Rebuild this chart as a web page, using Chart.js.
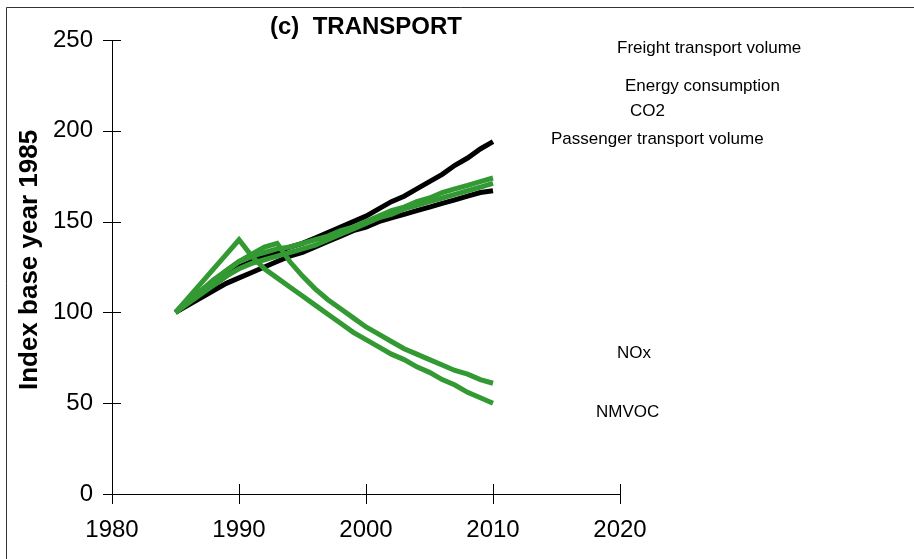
<!DOCTYPE html>
<html>
<head>
<meta charset="utf-8">
<title>(c) TRANSPORT</title>
<script src="https://cdn.jsdelivr.net/npm/chart.js@4/dist/chart.umd.min.js"></script>
<style>
  body { margin: 0; background: #fff; }
  #wrap { width: 914px; height: 559px; }
</style>
</head>
<body>
<div id="wrap"><canvas id="myChart" width="914" height="559"></canvas></div>
<script>
// data, index 1985 = 100
const years = [1985, 1986, 1987, 1988, 1989, 1990, 1991, 1992, 1993, 1994, 1995, 1996, 1997,
  1998, 1999, 2000, 2001, 2002, 2003, 2004, 2005, 2006, 2007, 2008, 2009, 2010];
const freight = [100, 105, 110, 115, 120, 125, 128, 131, 133, 136, 138, 141, 144,
  147, 150, 153, 157, 161, 164, 168, 172, 176, 181, 185, 190, 194];
const passenger = [100, 104, 108, 112, 116, 119, 122, 125, 128, 131, 133, 136, 139,
  142, 145, 147, 150, 152, 154, 156, 158, 160, 162, 164, 166, 167];
const energy = [100, 106, 112, 117, 123, 128, 131, 133, 135, 136, 138, 140, 142,
  145, 147, 150, 153, 156, 158, 161, 163, 166, 168, 170, 172, 174];
const co2 = [100, 105, 110, 115, 120, 124, 127, 129, 131, 133, 135, 137, 140,
  143, 146, 149, 152, 154, 157, 159, 161, 163, 165, 167, 169, 171];
const nox = [100, 106, 112, 118, 123, 128, 132, 136, 138, 128, 120, 113, 107,
  102, 97, 92, 88, 84, 80, 77, 74, 71, 68, 66, 63, 61];
const nmvoc = [100, 108, 116, 124, 132, 140, 131, 124, 119, 114, 109, 104, 99,
  94, 89, 85, 81, 77, 74, 70, 67, 63, 60, 56, 53, 50];
const yTicks = [0, 50, 100, 150, 200, 250];
const xTicks = [1980, 1990, 2000, 2010, 2020];

const green = "#339933";
const black = "#000000";
const font = "'Liberation Sans', Arial, sans-serif";

const toPoints = (vals) => vals.map((v, i) => ({ x: years[i], y: v }));

const mkSet = (label, vals, color) => ({
  label: label,
  data: toPoints(vals),
  borderColor: color,
  backgroundColor: color,
  borderWidth: 5,
  pointRadius: 0,
  tension: 0,
  fill: false,
});

// axes with ticks crossing the line, plus all the loose text
const decor = {
  id: "decor",
  beforeDatasetsDraw(chart) {
    const c = chart.ctx;
    const xs = chart.scales.x;
    const ys = chart.scales.y;
    const ax = xs.getPixelForValue(1980);
    const ay = ys.getPixelForValue(0);
    c.save();
    // frame (top and left only)
    c.strokeStyle = "#333";
    c.lineWidth = 1;
    c.beginPath();
    c.moveTo(6.5, 559);
    c.lineTo(6.5, 7.5);
    c.lineTo(914, 7.5);
    c.stroke();

    c.strokeStyle = "#000";
    c.beginPath();
    c.moveTo(Math.round(ax) + 0.5, ys.getPixelForValue(250));
    c.lineTo(Math.round(ax) + 0.5, ay + 8);
    c.moveTo(ax - 9, Math.round(ay) + 0.5);
    c.lineTo(xs.getPixelForValue(2020), Math.round(ay) + 0.5);
    for (const t of yTicks) {
      const py = Math.round(ys.getPixelForValue(t)) + 0.5;
      c.moveTo(ax - 9, py);
      c.lineTo(ax + 9, py);
    }
    for (const t of xTicks) {
      const px = Math.round(xs.getPixelForValue(t)) + 0.5;
      c.moveTo(px, ay - 10);
      c.lineTo(px, ay + 10);
    }
    c.stroke();

    // chart title
    c.fillStyle = "#000";
    c.textBaseline = "middle";
    c.textAlign = "left";
    c.font = "bold 24px " + font;
    c.fillText("(c)  TRANSPORT", 270, 27);

    // y axis title
    c.save();
    c.translate(30, 260);
    c.rotate(-Math.PI / 2);
    c.textAlign = "center";
    c.font = "bold 26px " + font;
    c.fillText("Index base year 1985", 0, 0);
    c.restore();

    // series labels
    c.font = "17px " + font;
    c.fillText("Freight transport volume", 617, 48);
    c.fillText("Energy consumption", 625, 86);
    c.fillText("CO2", 630, 111);
    c.fillText("Passenger transport volume", 551, 139);
    c.fillText("NOx", 617, 353);
    c.fillText("NMVOC", 596, 412);
    c.restore();
  },
};

const ctx = document.querySelector("#myChart").getContext("2d");
const lineChart = new Chart(ctx, {
  type: "line",
  data: {
    datasets: [
      mkSet("NMVOC", nmvoc, green),
      mkSet("NOx", nox, green),
      mkSet("CO2", co2, green),
      mkSet("Energy consumption", energy, green),
      mkSet("Passenger transport volume", passenger, black),
      mkSet("Freight transport volume", freight, black),
    ],
  },
  options: {
    responsive: false,
    animation: false,
    layout: { padding: { top: 40, right: 294, left: 0, bottom: 0 } },
    plugins: { legend: { display: false }, tooltip: { enabled: false } },
    scales: {
      x: {
        type: "linear",
        min: 1980,
        max: 2020,
        grid: { display: false, drawTicks: false },
        border: { display: false },
        afterBuildTicks: (s) => { s.ticks = xTicks.map((v) => ({ value: v })); },
        afterFit: (s) => { s.height = 65; },
        ticks: {
          color: "#000",
          padding: 22,
          font: { family: font, size: 24 },
          callback: (v) => String(v),
        },
      },
      y: {
        min: 0,
        max: 250,
        grid: { display: false, drawTicks: false },
        border: { display: false },
        afterBuildTicks: (s) => { s.ticks = yTicks.map((v) => ({ value: v })); },
        afterFit: (s) => { s.width = 112; },
        ticks: {
          color: "#000",
          padding: 19,
          font: { family: font, size: 24 },
        },
      },
    },
  },
  plugins: [decor],
});
</script>
</body>
</html>
